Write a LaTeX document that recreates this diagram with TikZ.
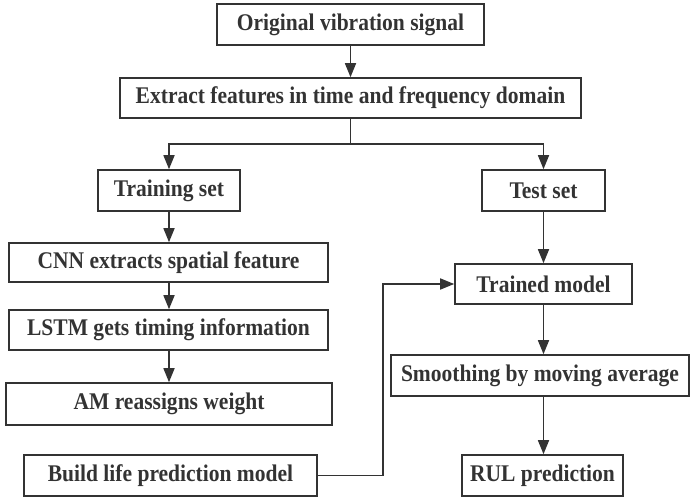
\documentclass[tikz,border=0pt]{standalone}
\usepackage{fontspec}
\setmainfont{Liberation Serif}[FakeStretch=0.9]
\usepackage{tikz}
\usetikzlibrary{arrows.meta,calc}
\definecolor{dunkel}{HTML}{333333}
\tikzset{
  box/.style={draw=dunkel,line width=1.6pt,text=dunkel,inner sep=0pt,
    font=\fontsize{24}{28}\selectfont\bfseries},
  pfeil/.style={-{Triangle[length=14bp,width=11bp]},dunkel,line width=1.6pt},
  linie/.style={dunkel,line width=1.6pt},
}
\begin{document}
\begin{tikzpicture}[x=1bp,y=-1bp]
  \useasboundingbox (0,0) rectangle (691,499);
  % upper chain
  \node[box,minimum width=267bp,minimum height=41bp] (orig) at (350.5,24.5) {Original vibration signal};
  \node[box,minimum width=461bp,minimum height=40bp] (extr) at (350.5,98) {Extract features in time and frequency domain};
  \node[box,minimum width=142bp,minimum height=41bp] (train) at (169,190.5) {Training set};
  \node[box,minimum width=123bp,minimum height=41bp] (test) at (543.5,190.5) {Test set};
  % left column
  \node[box,minimum width=319bp,minimum height=39bp] (cnn) at (168.5,262.5) {CNN extracts spatial feature};
  \node[box,minimum width=319bp,minimum height=40bp] (lstm) at (168.5,330) {LSTM gets timing information};
  \node[box,minimum width=326bp,minimum height=42bp] (am) at (169,404) {AM reassigns weight};
  \node[box,minimum width=293bp,minimum height=41bp] (build) at (170.5,475.5) {Build life prediction model};
  % right column
  \node[box,minimum width=177bp,minimum height=40bp] (trained) at (543.5,284) {Trained model};
  \node[box,minimum width=298bp,minimum height=41bp] (smooth) at (540,375.5) {Smoothing by moving average};
  \node[box,minimum width=161bp,minimum height=41bp] (rul) at (542.5,475.5) {RUL prediction};
  % connectors
  \draw[pfeil] (orig) -- (extr);
  \draw[linie] (extr.south) -- ++(0,25) coordinate (gabel);
  \draw[pfeil] (gabel) -| (train.north);
  \draw[pfeil] (gabel) -| (test.north);
  \draw[pfeil] (train.south) -- (train.south |- cnn.north);
  \draw[pfeil] (cnn.south -| train.south) -- (train.south |- lstm.north);
  \draw[pfeil] (lstm.south -| train.south) -- (train.south |- am.north);
  \draw[pfeil] (test) -- (trained);
  \draw[pfeil] (trained.south) -- (trained.south |- smooth.north);
  \draw[pfeil] (smooth.south -| trained.south) -- (trained.south |- rul.north);
  \draw[pfeil] (build.east) -- ++(65,0) |- (trained.west);
\end{tikzpicture}
\end{document}
